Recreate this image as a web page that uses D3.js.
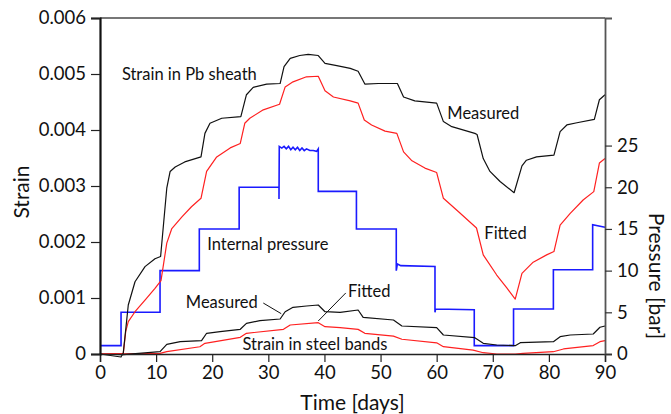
<!DOCTYPE html>
<html>
<head>
<meta charset="utf-8">
<script src="https://cdn.jsdelivr.net/npm/d3@7"></script>
<style>
  body { margin: 0; background: #fff; }
  svg { display: block; font-family: Lato, "Open Sans", sans-serif; }
</style>
</head>
<body>
<svg width="671" height="414"></svg>
<script>
// strain in Pb sheath, measured  [day, strain]
var pbMeasured = [[0,0],[3.74,-0.000054],[4.15,0.000018],[5.04,0.000875],[6.24,0.00129],[8.02,0.00156],[9.8,0.0017],[10.8,0.00174],
  [11.9,0.00296],[12.5,0.00326],[13.4,0.00334],[15.1,0.00343],[18.0,0.00352],[18.7,0.00394],[19.6,0.00412],[21.7,0.00421],[25.1,0.00424],
  [26.1,0.00463],[27.3,0.00476],[29.7,0.00482],[32.1,0.00483],[32.8,0.00513],[33.9,0.00528],[35.6,0.00533],[37.1,0.00535],[38.9,0.00533],
  [40.1,0.00519],[42.2,0.00515],[44.6,0.0051],[46.0,0.00505],[47.2,0.00482],[49.6,0.00483],[53.0,0.00483],[54.1,0.00459],[56.1,0.00452],
  [60.0,0.00448],[61.2,0.00415],[62.7,0.00406],[66.8,0.00394],[67.2,0.00392],[68.3,0.00349],[69.5,0.00326],[71.3,0.00308],[73.8,0.00288],
  [75.2,0.00336],[76.0,0.00346],[77.8,0.00352],[80.9,0.00355],[82.0,0.00397],[83.2,0.00409],[85.0,0.00413],[88.1,0.00419],[89.0,0.00454],[90,0.00463]];

// strain in Pb sheath, fitted
var pbFitted = [[0,0],[4.15,0.00001],[4.58,0.000398],[5.04,0.000577],[6.24,0.000755],[8.02,0.000964],[9.8,0.00117],[10.87,0.00131],
  [11.9,0.00198],[12.8,0.00224],[14.6,0.00245],[16.3,0.00263],[18.0,0.00278],[19.0,0.00326],[20.8,0.00352],[23.2,0.00368],[25.0,0.00376],
  [25.8,0.00412],[26.7,0.00421],[29.1,0.00436],[32.0,0.00446],[33.0,0.00477],[34.4,0.00486],[36.8,0.00495],[38.9,0.00496],
  [40.1,0.0047],[41.6,0.00459],[44.6,0.00452],[46.0,0.00448],[47.1,0.00418],[48.4,0.00409],[50.8,0.00398],[52.9,0.00394],
  [54.1,0.00361],[55.6,0.00345],[57.9,0.00332],[60.0,0.00324],[61.2,0.00278],[63.9,0.00254],[67.1,0.00225],[68.3,0.00177],
  [70.7,0.00141],[72.5,0.00118],[74.0,0.00098],[75.2,0.00144],[77.2,0.00164],[79.6,0.00177],[80.9,0.00183],[82.0,0.0023],
  [83.8,0.00251],[86.1,0.00275],[88.0,0.0029],[89.0,0.00341],[90,0.00349]];

// strain in steel bands, measured
var steelMeasured = [[0,0],[4.15,-0.00001],[10.7,0.000041],[11.9,0.000173],[14.3,0.00022],[18.1,0.000238],[19.0,0.00037],[21.4,0.000398],
  [25.0,0.000441],[26.1,0.000548],[28.5,0.000595],[32.1,0.000625],[33.0,0.000755],[34.4,0.000834],[36.8,0.000857],[38.9,0.000875],
  [40.1,0.000755],[42.8,0.000745],[46.0,0.000786],[46.9,0.000655],[52.3,0.000607],[53.8,0.0005],[60.0,0.00047],[61.2,0.000339],
  [66.8,0.000291],[68.3,0.000191],[70.7,0.000161],[74.0,0.000148],[74.9,0.000202],[80.8,0.00022],[82.0,0.000309],[83.8,0.000339],
  [87.9,0.000357],[89.1,0.000477],[90,0.0005]];

// strain in steel bands, fitted
var steelFitted = [[0,0],[10.7,0.0000125],[11.9,0.000041],[17.8,0.00013],[18.7,0.00019],[25.0,0.000298],[26.1,0.00037],[32.7,0.00044],
  [33.9,0.000518],[38.9,0.000559],[40.1,0.000488],[42.8,0.00047],[46.0,0.00044],[47.2,0.00037],[52.3,0.00032],[53.8,0.000263],
  [60.0,0.0002],[61.2,0.00013],[66.5,0.00007],[68.3,0.000023],[70.7,0],[74.0,0],[75.4,0.0000125],[80.8,0.000041],[82.6,0.00009],
  [87.9,0.00015],[89.1,0.00022],[90,0.00024]];

// internal pressure [day, bar]
var pressure = [[0,1.0],[3.75,1.0],[3.75,5.0],[10.7,5.0],[10.7,10.0],[17.7,10.0],[17.7,15.0],[24.8,15.0],[24.8,20.0],[31.9,20.0],
  [31.9,18.6],[31.95,24.9],[32.4,24.7],[32.8,24.9],[33.2,24.6],[33.6,24.9],[34.0,24.5],[34.4,24.8],[34.8,24.5],[35.2,24.8],[35.6,24.4],
  [36.0,24.7],[36.4,24.4],[36.8,24.6],[37.4,24.4],[38.0,24.4],[38.6,24.3],[38.9,24.6],[38.9,19.5],[45.7,19.5],[45.7,15.0],[52.8,15.0],
  [52.8,10.0],[53.0,10.8],[53.6,10.6],[59.7,10.5],[59.7,5.0],[59.8,5.4],[66.7,5.3],[66.7,1.0],[73.7,1.0],[73.7,5.4],[80.8,5.4],
  [80.8,10.1],[87.8,10.1],[87.8,15.5],[90,15.2]];

var strainTicks = [0, 0.001, 0.002, 0.003, 0.004, 0.005, 0.006];
var strainTickLabels = ["0", "0.001", "0.002", "0.003", "0.004", "0.005", "0.006"];
var pressureTicks = [0, 5, 10, 15, 20, 25];
var dayTicks = [0, 10, 20, 30, 40, 50, 60, 70, 80, 90];

var svg = d3.select("svg"),
    margin = {top: 18, right: 66, bottom: 60, left: 100},
    width = +svg.attr("width") - margin.left - margin.right,
    height = +svg.attr("height") - margin.top - margin.bottom,
    g = svg.append("g").attr("transform", "translate(" + margin.left + "," + margin.top + ")");

var x = d3.scaleLinear().domain([0, 90]).range([0, width]);
var y = d3.scaleLinear().domain([0, 0.006]).range([height, 0]);
var yp = d3.scaleLinear().domain([0, 40.3]).range([height, 0]);

// frame: top edge in grey
g.append("line").attr("x1", 0).attr("x2", width).attr("y1", 0).attr("y2", 0)
    .attr("stroke", "#777").attr("stroke-width", 2);

var line = d3.line()
    .x(function(d) { return x(d[0]); })
    .y(function(d) { return y(d[1]); });

var pline = d3.line()
    .x(function(d) { return x(d[0]); })
    .y(function(d) { return yp(d[1]); });

g.append("path").datum(pressure)
    .attr("fill", "none").attr("stroke", "#1a1aff").attr("stroke-width", 1.6)
    .attr("d", pline);

[[steelFitted, "#ff2020"], [steelMeasured, "#111"], [pbFitted, "#ff2020"], [pbMeasured, "#111"]].forEach(function(s) {
  g.append("path").datum(s[0])
      .attr("fill", "none").attr("stroke", s[1]).attr("stroke-width", 1.2)
      .attr("stroke-linejoin", "round")
      .attr("d", line);
});

// axes
var xAxis = g.append("g")
    .attr("transform", "translate(0," + height + ")")
    .call(d3.axisBottom(x).tickValues(dayTicks).tickSize(8).tickPadding(4));
xAxis.select(".domain").attr("stroke", "#222").attr("stroke-width", 1.5);
xAxis.selectAll(".tick line").attr("stroke", "#222").attr("stroke-width", 1.2);
xAxis.selectAll("text").attr("font-size", 18.5).attr("fill", "#111").attr("font-family", "Lato");

var yAxis = g.append("g")
    .call(d3.axisLeft(y).tickValues(strainTicks).tickSize(9).tickPadding(5)
      .tickFormat(function(d, i) { return strainTickLabels[i]; }));
yAxis.select(".domain").attr("stroke", "#111").attr("stroke-width", 2.2);
yAxis.selectAll(".tick line").attr("stroke", "#222").attr("stroke-width", 1.2);
yAxis.selectAll("text").attr("font-size", 18.5).attr("fill", "#111").attr("font-family", "Lato");

var pAxis = g.append("g")
    .attr("transform", "translate(" + width + ",0)")
    .call(d3.axisRight(yp).tickValues(pressureTicks).tickSize(7).tickPadding(5));
pAxis.select(".domain").attr("stroke", "#555").attr("stroke-width", 1.8);
pAxis.selectAll(".tick line").attr("stroke", "#333").attr("stroke-width", 1.2);
pAxis.selectAll("text").attr("font-size", 18.5).attr("fill", "#111").attr("font-family", "Lato");

// axis titles
svg.append("text")
    .attr("transform", "translate(29," + (margin.top + height / 2 + 6) + ") rotate(-90)")
    .attr("text-anchor", "middle").attr("font-size", 21).attr("fill", "#111")
    .text("Strain");

svg.append("text")
    .attr("x", margin.left + width / 2).attr("y", 410)
    .attr("text-anchor", "middle").attr("font-size", 21).attr("fill", "#111")
    .text("Time [days]");

svg.append("text")
    .attr("transform", "translate(649," + (margin.top + height / 2 + 90) + ") rotate(90)")
    .attr("text-anchor", "middle").attr("font-size", 21).attr("fill", "#111")
    .text("Pressure [bar]");

// annotations [day, strain, text]
var labels = [
  [3.9, 0.00489, "Strain in Pb sheath"],
  [61.9, 0.00420, "Measured"],
  [68.5, 0.00205, "Fitted"],
  [19.1, 0.00186, "Internal pressure"],
  [15.3, 0.00083, "Measured"],
  [44.2, 0.00102, "Fitted"],
  [25.4, 0.00007, "Strain in steel bands"]
];
g.selectAll(".lbl").data(labels).enter().append("text")
    .attr("class", "lbl")
    .attr("x", function(d) { return x(d[0]); })
    .attr("y", function(d) { return y(d[1]); })
    .attr("font-size", 16.5).attr("fill", "#111")
    .text(function(d) { return d[2]; });

// leader lines [day1, strain1, day2, strain2]
var leaders = [
  [29.1, 0.00091, 32.3, 0.00072],
  [43.8, 0.00109, 38.9, 0.00059]
];
g.selectAll(".leader").data(leaders).enter().append("line")
    .attr("x1", function(d) { return x(d[0]); })
    .attr("y1", function(d) { return y(d[1]); })
    .attr("x2", function(d) { return x(d[2]); })
    .attr("y2", function(d) { return y(d[3]); })
    .attr("stroke", "#111").attr("stroke-width", 1);
</script>
</body>
</html>
